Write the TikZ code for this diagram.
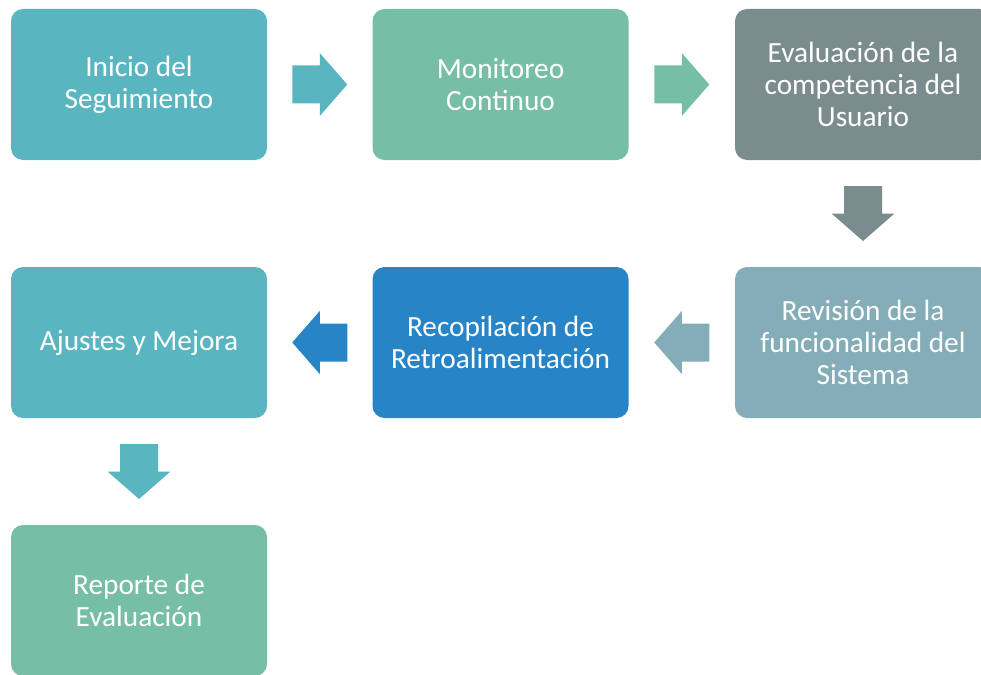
\documentclass[tikz,border=0pt]{standalone}
\usepackage{fontspec}
\setmainfont{Carlito}
\usetikzlibrary{calc}
\definecolor{cteal}{HTML}{59B6C0}
\definecolor{cgreen}{HTML}{76BEA6}
\definecolor{cgray}{HTML}{7B8C8E}
\definecolor{cslate}{HTML}{85ADB7}
\definecolor{cblue}{HTML}{2784C7}
\tikzset{
  box/.style={rounded corners=12pt, minimum width=256pt, minimum height=151pt,
    inner sep=0pt, text=white, align=center, font=\fontsize{29.3}{32}\selectfont},
  blockarrow/.pic={\fill (-27.5,-19) -- (0,-19) -- (0,-31.5) -- (27.5,0) -- (0,31.5) -- (0,19) -- (-27.5,19) -- cycle;}
}
\begin{document}
\begin{tikzpicture}[x=1pt,y=-1pt]
\useasboundingbox (0,0) rectangle (981,674);
\clip (0,0) rectangle (981,674);
\node[box, fill=cteal]  (b1) at (139,84.5)  {Inicio del\\Seguimiento};
\node[box, fill=cgreen] (b2) at (500.5,84.5) {Monitoreo\\Continuo};
\node[box, fill=cgray]  (b3) at (863,84.5)  {Evaluación de la\\competencia del\\Usuario};
\node[box, fill=cslate] (b4) at (863,342.5) {Revisión de la\\funcionalidad del\\Sistema};
\node[box, fill=cblue]  (b5) at (500.5,342.5) {Recopilación de\\Retroalimentación};
\node[box, fill=cteal]  (b6) at (139,342.5) {Ajustes y Mejora};
\node[box, fill=cgreen] (b7) at (139,600.5) {Reporte de\\Evaluación};
\pic[fill=cteal] at ($(b1.east)!0.5!(b2.west)$) {blockarrow};
\pic[fill=cgreen] at ($(b2.east)!0.5!(b3.west)$) {blockarrow};
\pic[fill=cgray, rotate=-90] at ($(b3.south)!0.5!(b4.north)$) {blockarrow};
\pic[fill=cslate, rotate=180] at ($(b4.west)!0.5!(b5.east)$) {blockarrow};
\pic[fill=cblue, rotate=180] at ($(b5.west)!0.5!(b6.east)$) {blockarrow};
\pic[fill=cteal, rotate=-90] at ($(b6.south)!0.5!(b7.north)$) {blockarrow};
\end{tikzpicture}
\end{document}
